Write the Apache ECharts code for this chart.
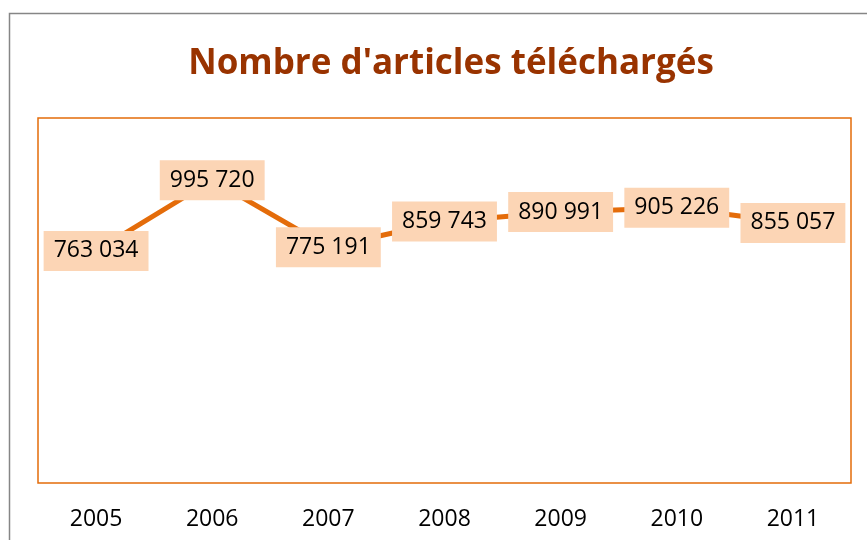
<!DOCTYPE html>
<html>
<head>
<meta charset="utf-8">
<script src="https://cdn.jsdelivr.net/npm/echarts@6/dist/echarts.min.js"></script>
<style>html,body{margin:0;padding:0;background:#fff}#c{width:867px;height:540px}</style>
</head>
<body>
<div id="c"></div>
<script>
const titleText = "Nombre d'articles téléchargés";
const years = ['2005', '2006', '2007', '2008', '2009', '2010', '2011'];
const downloads = [763034, 995720, 775191, 859743, 890991, 905226, 855057];

function fmt(v) {
  return String(v).replace(/\B(?=(\d{3})+(?!\d))/g, ' ');
}

const chart = echarts.init(document.getElementById('c'), null, {renderer: 'canvas'});
chart.setOption({
  backgroundColor: '#ffffff',
  animation: false,
  graphic: [{
    type: 'rect',
    shape: {x: 9.5, y: 13.5, width: 900, height: 600},
    style: {fill: 'none', stroke: '#868686', lineWidth: 1.5},
    z: -1
  }],
  title: {
    text: titleText,
    left: 446,
    textAlign: 'center',
    top: 42,
    textStyle: {fontFamily: 'Open Sans', fontWeight: 'bold', fontSize: 35, color: '#993300'}
  },
  grid: {
    left: 38, right: 16, top: 118, bottom: 57,
    show: true, borderColor: '#E46C0A', borderWidth: 1.5, backgroundColor: 'transparent'
  },
  xAxis: {
    type: 'category',
    data: years,
    boundaryGap: true,
    axisLine: {show: false},
    axisTick: {show: false},
    axisLabel: {fontFamily: 'Open Sans', fontSize: 23, color: '#000', margin: 25}
  },
  yAxis: {
    type: 'value',
    min: 0, max: 1200000,
    show: false,
    splitLine: {show: false}
  },
  series: [{
    type: 'line',
    data: downloads,
    symbol: 'circle',
    symbolSize: 2,
    itemStyle: {color: '#E46C0A'},
    lineStyle: {color: '#E46C0A', width: 5},
    label: {
      show: true,
      position: 'inside',
      formatter: p => fmt(p.value),
      fontFamily: 'Open Sans',
      fontSize: 23,
      lineHeight: 24,
      color: '#000',
      backgroundColor: '#FCD5B5',
      padding: [8, 10, 8, 10]
    },
    z: 3
  }]
});
</script>
</body>
</html>
